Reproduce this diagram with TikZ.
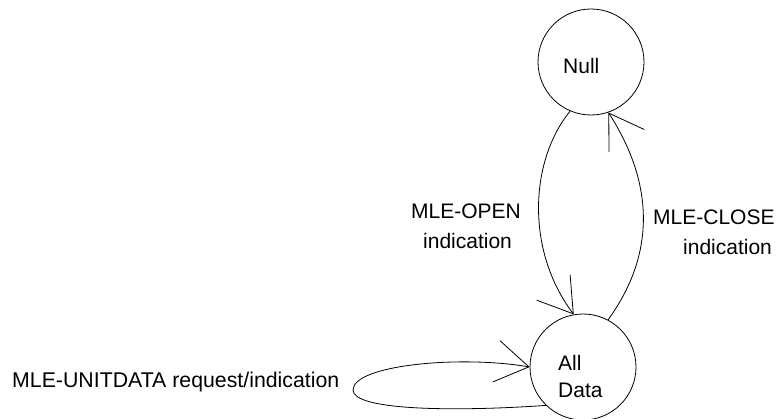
\documentclass[tikz,border=0pt]{standalone}
\usepackage{fontspec}
\setmainfont{Liberation Sans}
\usetikzlibrary{arrows.meta}
\begin{document}
\begin{tikzpicture}[x=1pt,y=-1pt,
  font=\fontsize{21}{25}\selectfont,
  state/.style={circle,draw,line width=0.8pt,minimum size=106pt,inner sep=0pt},
  lbl/.style={anchor=base west,inner sep=0pt},
  conn/.style={line width=0.8pt,-{Straight Barb[length=33pt,width=42pt,line width=0.8pt]}}]
\useasboundingbox (0,0) rectangle (778,419);
\node[state] (null) at (591,62) {};
\node[state] (ad) at (583,367) {};
\node[lbl] (nulltxt) at (563,74) {Null};
\node[lbl] (adtxt1) at (558,370) {All};
\node[lbl] (adtxt2) at (558,397) {Data};
\node[lbl] (open1) at (411,219) {MLE-OPEN};
\node[lbl] (open2) at (423,249) {indication};
\node[lbl] (close1) at (653,225) {MLE-CLOSE};
\node[lbl] (close2) at (683,255) {indication};
\node[lbl,font=\fontsize{21.3}{25}\selectfont] (unit) at (12,387) {MLE-UNITDATA request/indication};
\draw[conn] (null.247) .. controls (530,160) and (525,250) .. (ad.100);
\draw[conn] (ad.62) .. controls (655,255) and (655,185) .. (null.289);
\draw[conn] (ad.226) .. controls (450,412) and (353,410) .. (353,390)
  .. controls (353,365) and (460,355) .. (ad.180);
\end{tikzpicture}
\end{document}
